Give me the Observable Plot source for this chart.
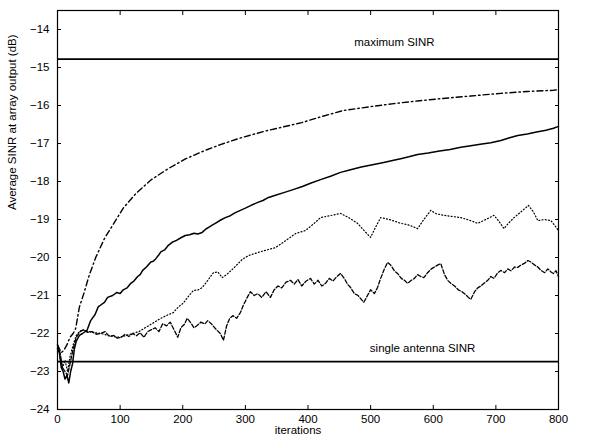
<!DOCTYPE html>
<html>
<head>
<meta charset="utf-8">
<script src="https://cdn.jsdelivr.net/npm/d3@7"></script>
<script src="https://cdn.jsdelivr.net/npm/@observablehq/plot@0.6"></script>
<style>
body { margin: 0; background: #fff; }
</style>
</head>
<body>
<div id="chart"></div>
<script>
// ---- data ----
const xTicks = [0, 100, 200, 300, 400, 500, 600, 700, 800];
const yTicks = [-24, -23, -22, -21, -20, -19, -18, -17, -16, -15, -14];

const maxSINR = -14.78;
const singleSINR = -22.74;

const labelText = ["maximum SINR", "single antenna SINR"];
const labelX = [538, 583];
const labelY = [-14.34, -22.4];

const dashDotIter = [0,3,6,10,15,20,25,29,35,42,50,61,75,90,105,125,150,177,205,236,260,289,330,390,420,457,500,537,575,612,660,708,750,792,800];
const dashDotVal = [-22.3,-22.4,-22.5,-22.45,-22.3,-22.1,-22.0,-21.87,-21.3,-20.95,-20.5,-20.0,-19.5,-19.1,-18.7,-18.32,-17.95,-17.66,-17.4,-17.18,-17.03,-16.87,-16.68,-16.45,-16.3,-16.13,-16.03,-15.95,-15.88,-15.82,-15.75,-15.68,-15.63,-15.6,-15.58];

const solidIter = [0,3,6,9,12,15,18,21,24,27,30,35,40,47,53,60,65,69,75,80,88,95,100,105,111,117,122,128,132,136,142,149,153,157,161,165,171,177,183,190,197,204,211,218,224,231,237,242,247,252,260,268,276,284,292,300,310,320,328,337,348,360,375,391,405,420,436,452,468,485,503,521,535,548,561,575,592,610,627,644,660,675,692,708,722,735,750,765,780,792,800];
const solidVal = [-22.4,-22.5,-22.9,-23.0,-23.2,-23.1,-23.3,-23.0,-22.8,-22.4,-22.2,-22.05,-22.0,-21.92,-21.66,-21.5,-21.3,-21.25,-21.18,-21.05,-21.0,-20.92,-20.95,-20.85,-20.8,-20.68,-20.62,-20.5,-20.45,-20.34,-20.25,-20.12,-20.1,-20.03,-19.95,-19.85,-19.8,-19.68,-19.6,-19.55,-19.48,-19.42,-19.4,-19.36,-19.38,-19.34,-19.25,-19.2,-19.15,-19.1,-19.02,-18.95,-18.9,-18.82,-18.76,-18.7,-18.62,-18.55,-18.5,-18.42,-18.36,-18.3,-18.22,-18.13,-18.04,-17.95,-17.86,-17.76,-17.69,-17.62,-17.56,-17.5,-17.45,-17.4,-17.35,-17.29,-17.25,-17.2,-17.16,-17.1,-17.06,-17.02,-16.98,-16.92,-16.85,-16.79,-16.75,-16.7,-16.65,-16.6,-16.55];

const dottedIter = [0,4,8,12,16,20,25,30,35,40,50,60,70,80,90,100,110,120,130,140,150,165,175,185,193,201,210,217,225,231,240,249,256,263,270,280,295,305,316,330,348,365,380,396,410,420,435,452,465,479,490,500,508,516,530,548,562,575,585,596,605,617,630,644,658,671,684,697,705,713,720,729,740,752,760,767,778,788,800];
const dottedVal = [-22.3,-22.6,-22.9,-22.7,-23.0,-22.6,-22.3,-22.05,-21.95,-21.9,-21.95,-21.98,-22.0,-22.05,-22.08,-22.1,-22.05,-22.0,-21.95,-21.85,-21.75,-21.6,-21.52,-21.45,-21.3,-21.2,-21.0,-20.87,-20.85,-20.79,-20.6,-20.4,-20.38,-20.53,-20.45,-20.3,-20.05,-19.95,-19.89,-19.82,-19.74,-19.55,-19.37,-19.29,-19.1,-18.95,-18.9,-18.84,-18.95,-19.1,-19.3,-19.47,-19.2,-18.95,-19.0,-19.1,-19.15,-19.24,-19.0,-18.76,-18.85,-18.89,-18.92,-18.95,-19.02,-19.1,-19.0,-18.89,-19.05,-19.24,-19.1,-18.95,-18.8,-18.63,-18.8,-19.03,-19.0,-19.03,-19.29];

const dashedIter = [0,4,8,12,16,20,25,30,36,42,48,55,62,69,76,83,90,95,102,108,114,120,126,132,138,144,150,156,162,168,174,180,186,192,197,203,207,212,218,223,229,235,240,246,251,255,260,265,270,275,280,286,292,297,303,308,314,320,326,333,340,346,352,358,365,372,378,384,390,397,404,410,416,422,428,434,440,446,452,458,463,468,474,480,485,489,495,500,506,511,516,522,527,532,538,543,549,554,559,565,570,575,580,585,591,597,602,607,612,618,623,628,634,640,646,652,656,660,666,671,676,681,687,692,697,703,708,714,719,724,730,735,740,746,751,756,762,767,772,778,783,788,792,796,800];
const dashedVal = [-22.3,-22.5,-22.9,-23.0,-23.1,-22.8,-22.4,-22.1,-21.95,-21.9,-21.97,-21.95,-22.02,-22.0,-21.95,-22.08,-22.05,-22.12,-22.1,-22.02,-22.08,-22.0,-22.06,-21.98,-22.1,-21.95,-21.9,-21.85,-21.95,-21.74,-21.8,-21.7,-21.9,-22.1,-21.85,-21.75,-21.6,-21.7,-21.85,-21.79,-21.7,-21.75,-21.66,-21.75,-21.85,-21.92,-22.0,-22.18,-21.8,-21.6,-21.53,-21.6,-21.45,-21.25,-21.05,-20.9,-21.0,-20.95,-21.05,-20.9,-21.05,-20.85,-20.75,-20.8,-20.65,-20.6,-20.7,-20.58,-20.75,-20.62,-20.55,-20.7,-20.6,-20.75,-20.68,-20.55,-20.62,-20.5,-20.42,-20.55,-20.7,-20.79,-20.95,-21.0,-21.1,-21.18,-21.0,-20.85,-20.95,-20.79,-20.55,-20.3,-20.13,-20.2,-20.35,-20.42,-20.55,-20.6,-20.68,-20.6,-20.55,-20.45,-20.5,-20.53,-20.4,-20.3,-20.25,-20.2,-20.16,-20.45,-20.6,-20.68,-20.75,-20.85,-20.9,-20.98,-21.05,-21.1,-20.9,-20.8,-20.75,-20.68,-20.6,-20.5,-20.55,-20.4,-20.34,-20.4,-20.3,-20.35,-20.25,-20.26,-20.2,-20.15,-20.08,-20.12,-20.2,-20.25,-20.34,-20.4,-20.3,-20.38,-20.42,-20.35,-20.5];

// ---- build tables ----
const toRows = (xs, ys) => xs.map((x, i) => ({x, y: ys[i]}));
const dashDot = toRows(dashDotIter, dashDotVal);
const solid = toRows(solidIter, solidVal);
const dotted = toRows(dottedIter, dottedVal);
const dashed = toRows(dashedIter, dashedVal);
const labels = labelText.map((t, i) => ({t, x: labelX[i], y: labelY[i]}));

const font = "'Liberation Sans', Arial, Helvetica, sans-serif";

const chart = Plot.plot({
  width: 591,
  height: 439,
  marginLeft: 57,
  marginRight: 33,
  marginTop: 10,
  marginBottom: 30,
  style: {fontFamily: font, fontSize: "11.5px", background: "#fff", color: "#000"},
  x: {domain: [0, 800]},
  y: {domain: [-24, -13.5]},
  marks: [
    Plot.axisX({anchor: "bottom", ticks: xTicks, tickSize: -4, tickPadding: 9, label: null, fontSize: 11.5}),
    Plot.axisX({anchor: "top", ticks: xTicks, tickSize: -4, tickFormat: () => "", label: null}),
    Plot.axisY({anchor: "left", ticks: yTicks, tickSize: -4, tickPadding: 12, label: null, fontSize: 11.5}),
    Plot.axisY({anchor: "right", ticks: yTicks, tickSize: -4, tickFormat: () => "", label: null}),
    Plot.frame({stroke: "#000", strokeWidth: 1.2}),
    Plot.ruleY([maxSINR, singleSINR], {stroke: "#000", strokeWidth: 1.6}),
    Plot.line(dashDot, {x: "x", y: "y", stroke: "#000", strokeWidth: 1.4, strokeDasharray: "6,3,1.5,3"}),
    Plot.line(solid, {x: "x", y: "y", stroke: "#000", strokeWidth: 1.5}),
    Plot.line(dotted, {x: "x", y: "y", stroke: "#000", strokeWidth: 1.2, strokeDasharray: "1,2.2"}),
    Plot.line(dashed, {x: "x", y: "y", stroke: "#000", strokeWidth: 1.3, strokeDasharray: "4,2"}),
    Plot.text(labels, {x: "x", y: "y", text: "t", fontSize: 11.5, fill: "#000"}),
    Plot.text(["Average SINR at array output (dB)"], {frameAnchor: "left", dx: -45, rotate: -90, fontSize: 11.5, fill: "#000"}),
    Plot.text(["iterations"], {frameAnchor: "bottom", dx: -10, dy: 24, fontSize: 11.5, fill: "#000"})
  ]
});
document.getElementById("chart").appendChild(chart);
</script>
</body>
</html>
